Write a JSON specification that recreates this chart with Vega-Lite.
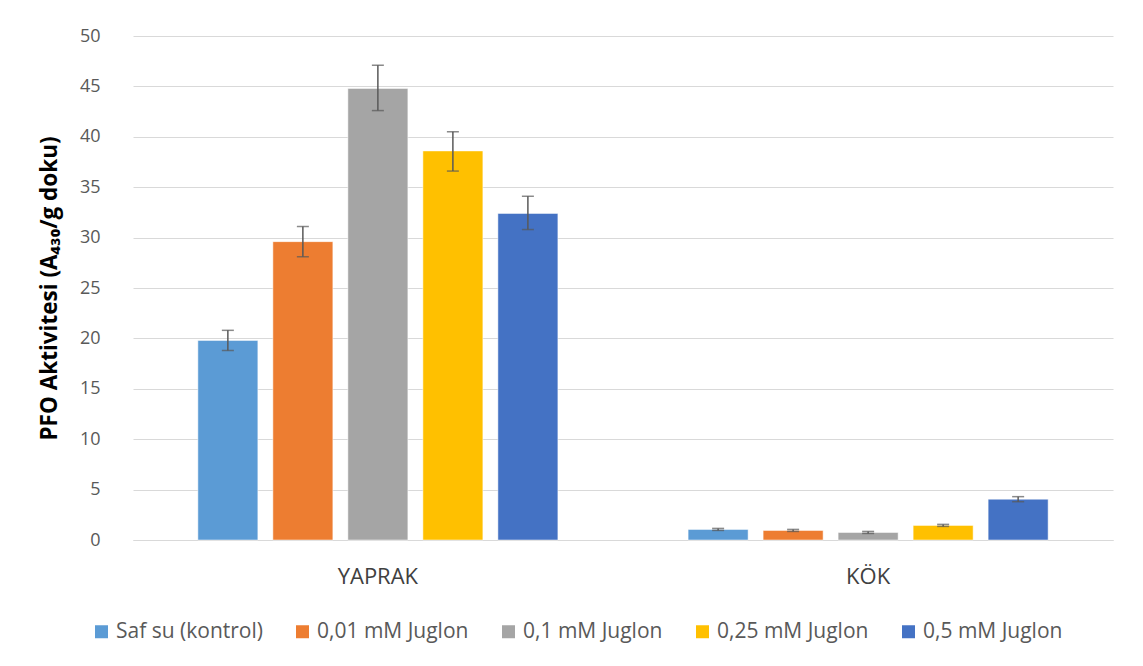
{
  "$schema": "https://vega.github.io/schema/vega-lite/v6.json",
  "autosize": {"type": "none"},
  "width": 980,
  "height": 504,
  "padding": {"left": 133, "top": 36, "right": 30, "bottom": 126},
  "background": "white",
  "data": {
    "values": [
      {"group": "YAPRAK", "series": "Saf su (kontrol)", "value": 19.8, "lo": 18.8, "hi": 20.8},
      {"group": "YAPRAK", "series": "0,01 mM Juglon", "value": 29.6, "lo": 28.1, "hi": 31.1},
      {"group": "YAPRAK", "series": "0,1 mM Juglon", "value": 44.8, "lo": 42.6, "hi": 47.1},
      {"group": "YAPRAK", "series": "0,25 mM Juglon", "value": 38.6, "lo": 36.6, "hi": 40.5},
      {"group": "YAPRAK", "series": "0,5 mM Juglon", "value": 32.4, "lo": 30.8, "hi": 34.1},
      {"group": "KÖK", "series": "Saf su (kontrol)", "value": 1.05, "lo": 0.95, "hi": 1.15},
      {"group": "KÖK", "series": "0,01 mM Juglon", "value": 0.95, "lo": 0.85, "hi": 1.05},
      {"group": "KÖK", "series": "0,1 mM Juglon", "value": 0.75, "lo": 0.65, "hi": 0.85},
      {"group": "KÖK", "series": "0,25 mM Juglon", "value": 1.45, "lo": 1.35, "hi": 1.55},
      {"group": "KÖK", "series": "0,5 mM Juglon", "value": 4.05, "lo": 3.8, "hi": 4.3}
    ]
  },
  "encoding": {
    "x": {
      "field": "group",
      "type": "nominal",
      "sort": ["YAPRAK", "KÖK"],
      "scale": {"paddingInner": 0.235, "paddingOuter": 0.117},
      "axis": {
        "title": null,
        "labelAngle": 0,
        "domain": true,
        "domainColor": "#d9d9d9",
        "domainWidth": 1,
        "ticks": false,
        "grid": false,
        "labelPadding": 26,
        "labelFontSize": 22,
        "labelColor": "#404040",
        "labelFont": "Open Sans"
      }
    },
    "xOffset": {
      "field": "series",
      "type": "nominal",
      "sort": ["Saf su (kontrol)", "0,01 mM Juglon", "0,1 mM Juglon", "0,25 mM Juglon", "0,5 mM Juglon"],
      "scale": {"paddingInner": 0.2, "paddingOuter": 0.1}
    }
  },
  "layer": [
    {
      "mark": {"type": "bar", "stroke": "white", "strokeWidth": 0.5},
      "encoding": {
        "y": {
          "field": "value",
          "type": "quantitative",
          "scale": {"domain": [0, 50], "nice": false},
          "axis": {
            "values": [0, 5, 10, 15, 20, 25, 30, 35, 40, 45, 50],
            "title": "PFO Aktivitesi (A₄₃₀/g doku)",
            "titleFont": "Open Sans",
            "titleFontSize": 22.5,
            "titleFontWeight": "bold",
            "titleColor": "black",
            "titlePadding": 18,
            "domain": false,
            "ticks": false,
            "grid": true,
            "gridColor": "#d9d9d9",
            "gridWidth": 1,
            "labelPadding": 33,
            "labelFontSize": 18,
            "labelColor": "#595959",
            "labelFont": "Open Sans"
          }
        },
        "color": {
          "field": "series",
          "type": "nominal",
          "sort": ["Saf su (kontrol)", "0,01 mM Juglon", "0,1 mM Juglon", "0,25 mM Juglon", "0,5 mM Juglon"],
          "scale": {
            "domain": ["Saf su (kontrol)", "0,01 mM Juglon", "0,1 mM Juglon", "0,25 mM Juglon", "0,5 mM Juglon"],
            "range": ["#5B9BD5", "#ED7D31", "#A5A5A5", "#FFC000", "#4472C4"]
          },
          "legend": {
            "title": null,
            "orient": "none",
            "direction": "horizontal",
            "legendX": -42,
            "legendY": 585,
            "symbolType": "square",
            "symbolSize": 169,
            "symbolStrokeWidth": 0,
            "labelFontSize": 21,
            "labelColor": "#595959",
            "labelFont": "Open Sans",
            "columnPadding": 29,
            "labelOffset": 4
          }
        }
      }
    },
    {
      "mark": {"type": "rule", "color": "#595959", "strokeWidth": 1.5},
      "encoding": {
        "y": {"field": "lo", "type": "quantitative"},
        "y2": {"field": "hi"}
      }
    },
    {
      "mark": {"type": "tick", "color": "#595959", "thickness": 1.5, "size": 12},
      "encoding": {"y": {"field": "lo", "type": "quantitative"}}
    },
    {
      "mark": {"type": "tick", "color": "#595959", "thickness": 1.5, "size": 12},
      "encoding": {"y": {"field": "hi", "type": "quantitative"}}
    }
  ],
  "config": {
    "view": {"stroke": null},
    "font": "Open Sans"
  }
}
